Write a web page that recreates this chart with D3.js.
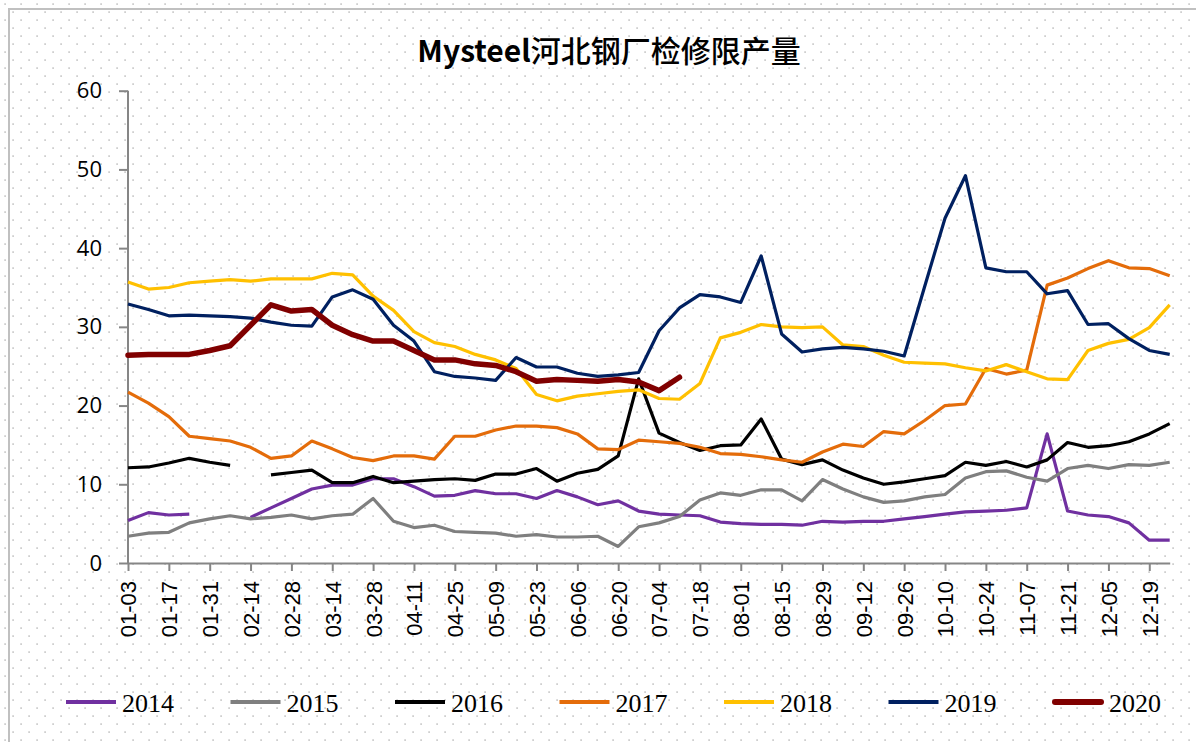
<!DOCTYPE html>
<html>
<head>
<meta charset="utf-8">
<script src="https://cdn.jsdelivr.net/npm/d3@7"></script>
<style>
  html, body { margin: 0; padding: 0; background: #fff; }
  #chart { width: 1196px; height: 742px; }
</style>
</head>
<body>
<div id="chart"></div>
<script>
// weekly dates, labels every 2nd week
var weeks = ["01-03","01-10","01-17","01-24","01-31","02-07","02-14","02-21","02-28","03-07",
  "03-14","03-21","03-28","04-04","04-11","04-18","04-25","05-02","05-09","05-16",
  "05-23","05-30","06-06","06-13","06-20","06-27","07-04","07-11","07-18","07-25",
  "08-01","08-08","08-15","08-22","08-29","09-05","09-12","09-19","09-26","10-03",
  "10-10","10-17","10-24","10-31","11-07","11-14","11-21","11-28","12-05","12-12",
  "12-19","12-26"];

var years = ["2014","2015","2016","2017","2018","2019","2020"];
var colors = ["#7030a0","#7f7f7f","#000000","#e46c0a","#ffc000","#002060","#800000"];

var v2014 = [5.4,6.4,6.1,6.2,null,null,5.8,7.0,8.2,9.4,9.9,9.9,10.7,10.7,9.7,8.5,8.6,9.2,8.8,8.8,
  8.2,9.2,8.4,7.4,7.9,6.6,6.2,6.1,6.0,5.2,5.0,4.9,4.9,4.8,5.3,5.2,5.3,5.3,5.6,5.9,
  6.2,6.5,6.6,6.7,7.0,16.4,6.6,6.1,5.9,5.1,2.9,2.9];
var v2015 = [3.4,3.8,3.9,5.1,5.6,6.0,5.6,5.8,6.1,5.6,6.0,6.2,8.2,5.3,4.5,4.8,4.0,3.9,3.8,3.4,
  3.6,3.3,3.3,3.4,2.1,4.6,5.1,5.9,8.0,8.9,8.6,9.3,9.3,7.9,10.6,9.4,8.4,7.7,7.9,8.4,
  8.7,10.8,11.6,11.7,10.9,10.4,12.0,12.4,12.0,12.5,12.4,12.8];
var v2016 = [12.1,12.2,12.7,13.3,12.8,12.4,null,11.2,11.5,11.8,10.2,10.2,11.0,10.2,10.4,10.6,10.7,10.5,11.3,11.3,
  12.0,10.4,11.4,11.9,13.6,23.4,16.5,15.3,14.3,14.9,15.0,18.3,13.2,12.5,13.1,11.8,10.8,10.0,10.3,10.7,
  11.1,12.8,12.4,12.9,12.2,13.1,15.3,14.7,14.9,15.4,16.4,17.7];
var v2017 = [21.7,20.3,18.6,16.1,15.8,15.5,14.7,13.3,13.6,15.5,14.5,13.4,13.0,13.6,13.6,13.2,16.1,16.1,16.9,17.4,
  17.4,17.2,16.4,14.5,14.4,15.6,15.4,15.2,14.7,13.9,13.8,13.5,13.1,12.8,14.1,15.1,14.8,16.7,16.4,18.1,
  20.0,20.2,24.7,24.0,24.5,35.3,36.2,37.4,38.4,37.5,37.4,36.5];
var v2018 = [35.7,34.8,35.0,35.6,35.8,36.0,35.8,36.1,36.1,36.1,36.8,36.6,33.9,32.1,29.4,28.0,27.5,26.5,25.8,24.7,
  21.4,20.6,21.2,21.5,21.8,22.0,20.9,20.8,22.8,28.6,29.3,30.3,30.0,29.9,30.0,27.7,27.5,26.4,25.5,25.4,
  25.3,24.8,24.4,25.2,24.3,23.4,23.3,27.0,27.9,28.4,29.9,32.8];
var v2019 = [32.9,32.2,31.4,31.5,31.4,31.3,31.1,30.6,30.2,30.1,33.8,34.7,33.5,30.2,28.2,24.3,23.7,23.5,23.2,26.1,
  24.9,24.9,24.1,23.7,23.9,24.2,29.5,32.4,34.1,33.8,33.1,39.0,29.1,26.8,27.2,27.4,27.2,26.9,26.3,35.1,
  43.8,49.2,37.5,37.0,37.0,34.2,34.6,30.3,30.4,28.5,27.0,26.5];
var v2020 = [26.4,26.5,26.5,26.5,27.0,27.6,30.2,32.8,32.0,32.2,30.2,29.0,28.2,28.2,27.0,25.8,25.8,25.3,25.1,24.3,
  23.1,23.3,23.2,23.1,23.3,23.0,21.9,23.6];

var yTicks = [0,10,20,30,40,50,60];

var series = [v2014, v2015, v2016, v2017, v2018, v2019, v2020];

var w = 1196, h = 742;
var marg = { top: 90.7, right: 45, bottom: 179, left: 128 };

var svg = d3.select("#chart").append("svg")
  .attr("width", w)
  .attr("height", h);

// dotted background
var defs = svg.append("defs");
var pat = defs.append("pattern")
  .attr("id", "dots")
  .attr("width", 16).attr("height", 16)
  .attr("patternUnits", "userSpaceOnUse");
pat.append("rect").attr("width", 16).attr("height", 16).attr("fill", "#ffffff");
pat.append("rect").attr("x", 4.3).attr("y", 3.3).attr("width", 1.6).attr("height", 1.6).attr("fill", "#c4c4c4");
pat.append("rect").attr("x", 12.3).attr("y", 11.3).attr("width", 1.6).attr("height", 1.6).attr("fill", "#c4c4c4");

svg.append("rect").attr("width", w).attr("height", h).attr("fill", "url(#dots)");

// chart frame
svg.append("path")
  .attr("d", "M9,742 L9,9 L1196,9")
  .attr("fill", "none")
  .attr("stroke", "#c0c0c0")
  .attr("stroke-width", 2);

var x = d3.scalePoint()
  .domain(weeks)
  .range([marg.left, w - marg.right + 18.7]);

var y = d3.scaleLinear()
  .domain([0, 60])
  .range([h - marg.bottom, marg.top]);

// title
var title = svg.append("text")
  .attr("x", 609)
  .attr("y", 62)
  .attr("text-anchor", "middle")
  .style("font-family", "'Noto Sans CJK SC', 'Noto Sans', sans-serif")
  .style("font-size", "30px")
  .attr("fill", "#000");
title.append("tspan").style("font-weight", "bold").text("Mysteel");
title.append("tspan").style("font-weight", "500").text("河北钢厂检修限产量");

// y axis
var yAxis = svg.append("g")
  .attr("transform", "translate(" + marg.left + ",0)")
  .call(d3.axisLeft(y).tickValues(yTicks).tickSize(9).tickPadding(17));
yAxis.select(".domain").attr("stroke", "#868686").attr("stroke-width", 2)
  .attr("d", "M0," + y(60) + "V" + y(0));
yAxis.selectAll(".tick line").attr("stroke", "#868686").attr("stroke-width", 2);
yAxis.selectAll(".tick text")
  .style("font-family", "'Open Sans', sans-serif")
  .style("font-size", "22px")
  .attr("fill", "#000");

// x axis
var xTickVals = weeks.filter(function(d, i) { return i % 2 === 0; });
var xAxis = svg.append("g")
  .attr("transform", "translate(0," + y(0) + ")")
  .call(d3.axisBottom(x).tickValues(xTickVals).tickSize(8).tickSizeOuter(0));
xAxis.select(".domain").attr("stroke", "#868686").attr("stroke-width", 2);
xAxis.selectAll(".tick line").attr("stroke", "#868686").attr("stroke-width", 2);
xAxis.selectAll(".tick text")
  .attr("transform", "rotate(-90)")
  .attr("x", -18)
  .attr("y", 0)
  .attr("dy", "0.36em")
  .attr("text-anchor", "end")
  .style("font-family", "'Liberation Sans', Arial, sans-serif")
  .style("font-size", "22px")
  .attr("fill", "#000");

// lines
var line = d3.line()
  .defined(function(d) { return d != null; })
  .x(function(d, i) { return x(weeks[i]); })
  .y(function(d) { return y(d); });

series.forEach(function(s, k) {
  svg.append("path")
    .datum(s)
    .attr("d", line)
    .attr("fill", "none")
    .attr("stroke", colors[k])
    .attr("stroke-width", k === 6 ? 5.5 : 3.2)
    .attr("stroke-linejoin", "round")
    .attr("stroke-linecap", k === 6 ? "round" : "butt");
});

// legend
var legend = svg.append("g").attr("transform", "translate(66,702)");
years.forEach(function(yr, k) {
  var g = legend.append("g").attr("transform", "translate(" + (k * 164.5) + ",0)");
  g.append("line")
    .attr("x1", k === 6 ? 2 : 0).attr("x2", k === 6 ? 48 : 50)
    .attr("y1", 0).attr("y2", 0)
    .attr("stroke", colors[k])
    .attr("stroke-width", k === 6 ? 6 : 4)
    .attr("stroke-linecap", k === 6 ? "round" : "butt");
  g.append("text")
    .attr("x", 56)
    .attr("y", 10)
    .style("font-family", "'Liberation Serif', serif")
    .style("font-size", "26px")
    .attr("fill", "#000")
    .text(yr);
});
</script>
</body>
</html>
